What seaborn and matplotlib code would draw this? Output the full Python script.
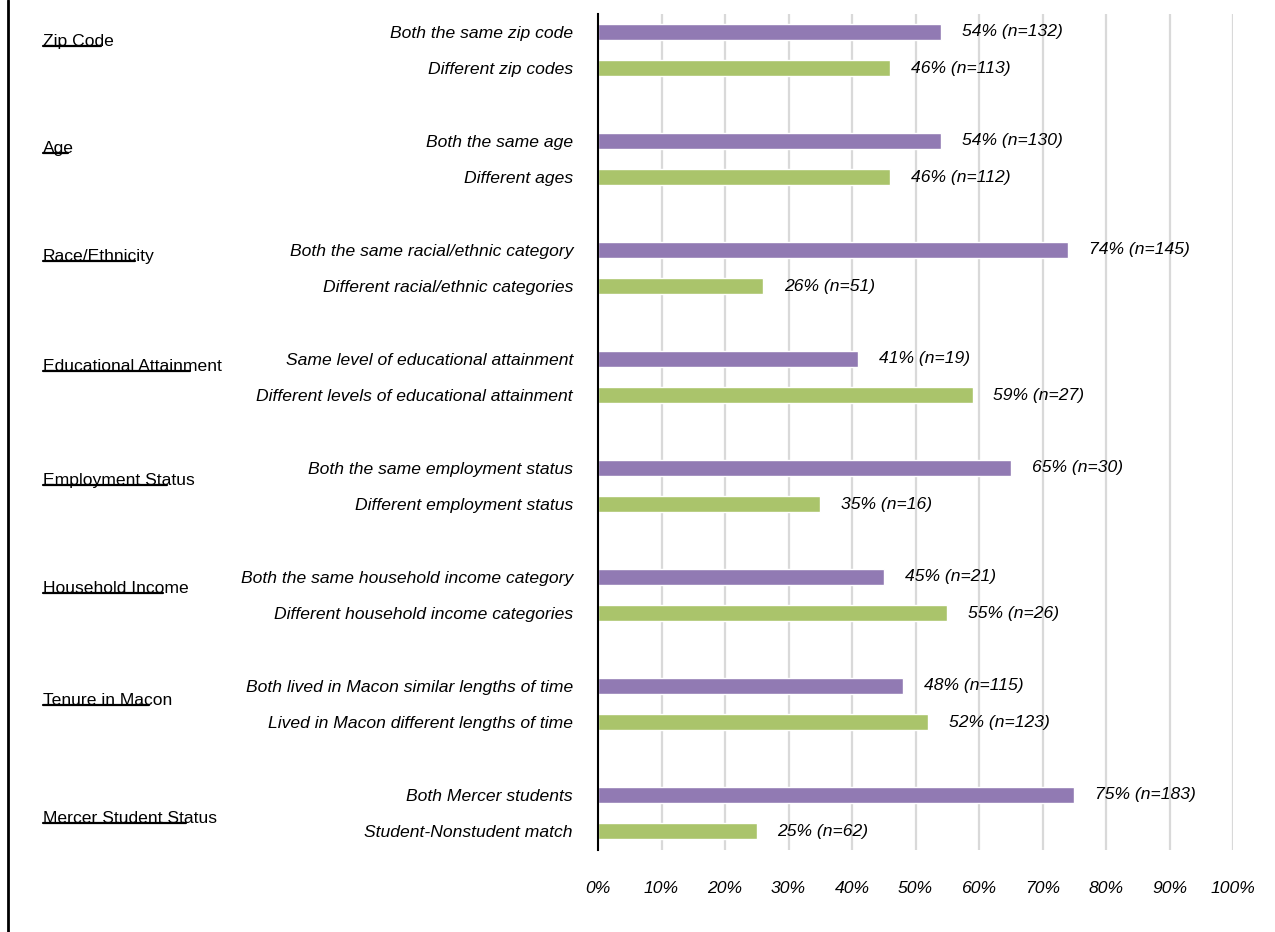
import matplotlib
matplotlib.use("Agg")
import matplotlib.pyplot as plt
import matplotlib.transforms as mtransforms
from matplotlib import font_manager
import seaborn as sns
import pandas as pd

# ---------------- data ----------------
groups = ["Zip Code", "Age", "Race/Ethnicity", "Educational Attainment",
          "Employment Status", "Household Income", "Tenure in Macon",
          "Mercer Student Status"]
same_labels = ["Both the same zip code", "Both the same age",
               "Both the same racial/ethnic category",
               "Same level of educational attainment",
               "Both the same employment status",
               "Both the same household income category",
               "Both lived in Macon similar lengths of time",
               "Both Mercer students"]
diff_labels = ["Different zip codes", "Different ages",
               "Different racial/ethnic categories",
               "Different levels of educational attainment",
               "Different employment status",
               "Different household income categories",
               "Lived in Macon different lengths of time",
               "Student-Nonstudent match"]
same_pct = [54, 54, 74, 41, 65, 45, 48, 75]
same_n = [132, 130, 145, 19, 30, 21, 115, 183]
diff_pct = [46, 46, 26, 59, 35, 55, 52, 25]
diff_n = [113, 112, 51, 27, 16, 26, 123, 62]
x_ticks = [0, 10, 20, 30, 40, 50, 60, 70, 80, 90, 100]

# layout: vertical offset of each group label below its first bar (in bar slots)
group_label_dy = [0.28, 0.22, 0.19, 0.22, 0.36, 0.33, 0.41, 0.66]

# ---------------- style ----------------
sns.set_theme(style="white")
avail = {f.name for f in font_manager.fontManager.ttflist}
fam = "Liberation Sans Narrow" if "Liberation Sans Narrow" in avail else "Liberation Sans"
plt.rcParams["font.family"] = [fam, "DejaVu Sans"]
plt.rcParams["text.color"] = "black"
plt.rcParams["xtick.color"] = "black"
plt.rcParams["ytick.color"] = "black"

FS = 12.6
PURPLE = "#917AB3"
GREEN = "#AAC46B"

rows = []
for i in range(len(groups)):
    rows.append(dict(label=same_labels[i], pct=same_pct[i], n=same_n[i],
                     kind="same", pos=3 * i, group=groups[i]))
    rows.append(dict(label=diff_labels[i], pct=diff_pct[i], n=diff_n[i],
                     kind="diff", pos=3 * i + 1, group=groups[i]))
df = pd.DataFrame(rows)

fig = plt.figure(figsize=(12.75, 9.32), dpi=100)
ax = fig.add_axes([598 / 1275, 1 - 850 / 932, (1233 - 598) / 1275, (850 - 14) / 932])

sns.barplot(data=df, x="pct", y="pos", hue="kind", orient="h", native_scale=True,
            dodge=False, width=0.43, palette={"same": PURPLE, "diff": GREEN},
            legend=False, ax=ax, saturation=1)

ax.set_xlim(0, 100)
ax.set_ylim(22.52, -0.49)
ax.set_xticks(x_ticks)
ax.set_xticklabels([f"{t}%" for t in x_ticks], fontstyle="italic", fontsize=FS)
ax.set_yticks(df["pos"].tolist())
ax.set_yticklabels(df["label"].tolist(), fontstyle="italic", fontsize=FS)
ax.tick_params(axis="y", length=0, pad=18, colors="black")
ax.tick_params(axis="x", length=0, pad=22, colors="black")
ax.set_xlabel("")
ax.set_ylabel("")

for t in x_ticks[1:]:
    ax.axvline(t, color="#D9D9D9", lw=1.6, zorder=0)
ax.set_axisbelow(True)

for s in ["top", "right", "bottom"]:
    ax.spines[s].set_visible(False)
ax.spines["left"].set_color("black")
ax.spines["left"].set_linewidth(1.5)
ax.spines["left"].set_zorder(5)

# value labels
for _, r in df.iterrows():
    ax.annotate(f"{r['pct']}% (n={r['n']})", xy=(r["pct"], r["pos"]),
                xytext=(15, 0), textcoords="offset points", va="center",
                ha="left", fontstyle="italic", fontsize=FS, color="black")

# group labels with partial underline
trans = mtransforms.blended_transform_factory(fig.transFigure, ax.transData)
gtexts = []
for i, g in enumerate(groups):
    t = fig.text(43 / 1275, 3 * i + group_label_dy[i], g, transform=trans, ha="left",
                 va="center", fontsize=FS, color="black")
    gtexts.append(t)

fig.canvas.draw()
renderer = fig.canvas.get_renderer()
inv = fig.transFigure.inverted()
for t in gtexts:
    bb = t.get_window_extent(renderer)
    x0, y0 = inv.transform((bb.x0, bb.y0 + 3))
    x1, _ = inv.transform((bb.x0 + 0.82 * bb.width, bb.y0 + 3))
    fig.add_artist(plt.Line2D([x0, x1], [y0, y0], transform=fig.transFigure,
                              color="black", lw=1.6))

# left frame line
fig.add_artist(plt.Line2D([8 / 1275, 8 / 1275], [0, 1], transform=fig.transFigure,
                          color="black", lw=2))

fig.savefig("out.png", dpi=100, facecolor="white")
